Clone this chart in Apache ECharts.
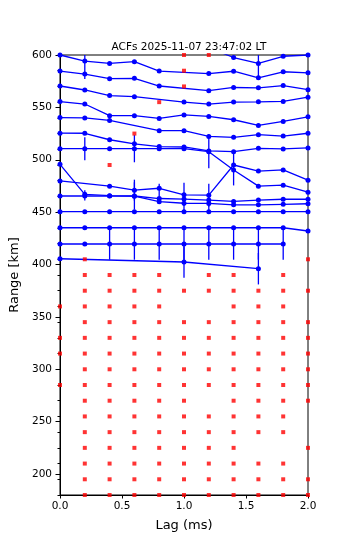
<!DOCTYPE html>
<html><head><meta charset="utf-8">
<script src="https://cdn.jsdelivr.net/npm/echarts@6/dist/echarts.min.js"></script>
<style>html,body{margin:0;padding:0;background:#fff}#c{width:350px;height:550px}</style>
</head><body><div id="c"></div>
<script>
// ---- data ----
const titleText = 'ACFs 2025-11-07 23:47:02 LT';
const lags = [0, 0.2, 0.4, 0.6, 0.8, 1.0, 1.2, 1.4, 1.6, 1.8, 2.0];
// ACF curves drawn as range offsets (km); null = no point
const acf615 = [null, null, null, null, null, null, 607, 597.6, 592, 598.8, 600];
const acf600 = [600, 594.2, 592, 593.6, 584.7, null, 582.3, 584.5, 578.2, 584, 583];
const acf585 = [584.7, 581.8, 577.4, 577.7, 570.4, null, 565.9, 569, 568.7, 570.8, 566.9];
const acf570 = [570.4, 566.6, 561.3, 560.2, null, 555.1, 553.2, 555.1, 555.3, 555.7, 559.7];
const acf555 = [555.5, 553.2, 542.1, 542.1, 539.5, 542.8, 541.4, 538.2, 532.8, 536.6, 541];
const acf540 = [540.3, 539.9, 537.5, null, 527.8, 527.8, 522.3, 521.4, 523.9, 522.6, 525.3];
const acf525 = [525.4, 525.3, 519.1, 515.2, 512.6, 512.2, 508.4, 507.7, 510.9, 510.3, 511.3];
const acf510 = [510.6, 510.6, 510.6, 510.6, 510.6, 510.6, 507.7, 490.2, 474.8, 475.7, 469];
const acf495 = [495.6, 467, 465.7, 465.4, 463, 462.5, 461.5, 460.2, 461.5, 462.3, 462.3];
const acf480 = [479.8, null, 474.8, 471, 472.8, 466.5, 466.2, 495, 489.2, 490.3, 480.5];
const acf465 = [465.4, 465.4, 465.3, 465.2, 460, 458.5, 458.3, 457, 457, 457.5, 458];
const acf450 = [450.4, 450.4, 450.4, 450.4, 450.4, 450.4, 450.4, 450.4, 450.4, 450.4, 450.4];
const acf435 = [435.1, 435.1, 435.1, 435.1, 435.1, 435.1, 435.1, 435.1, 435.1, 435.1, 432];
const acf420 = [419.6, 419.6, 419.6, 419.6, 419.6, 419.6, 419.6, 419.6, 419.6, 419.6, null];
const acf405 = [405.5, null, null, null, null, 402.4, null, null, 396, null, null];
const acfCurves = [acf615, acf600, acf585, acf570, acf555, acf540, acf525, acf510,
                   acf495, acf480, acf465, acf450, acf435, acf420, acf405];
// error bars: [lag, centre km, half-width km]
const errorBars = [
  [0.2, 594.2, 17], [1.6, 592, 14],
  [0.2, 510.6, 11], [0.6, 510.6, 13], [1.2, 508, 16], [1.4, 491.5, 16],
  [0.6, 471, 10], [0.8, 471, 6], [1.0, 467, 11], [1.2, 466.2, 11],
  [0.2, 466, 5], [0.6, 465.5, 13], [1.0, 458.5, 8], [1.2, 458.3, 8],
  [0.4, 419.6, 15], [0.6, 419.6, 15], [0.8, 419.6, 15], [1.0, 419.6, 15],
  [1.2, 419.6, 15], [1.4, 419.6, 15], [1.6, 419.6, 15], [1.8, 419.6, 15],
  [1.0, 402.4, 15], [1.6, 396, 15]
];
// red points: range gate and the lags flagged there
const redRanges = [600, 585, 570, 555, 525, 495, 405, 390, 375, 360, 345, 330, 315, 300,
                   285, 270, 255, 240, 225, 210, 195, 180];
const redLags = [
  [1.0, 1.2], [1.0], [1.0], [0.8], [0.6], [0.4], [0.2, 2.0],
  [0.2, 0.4, 0.6, 0.8, 1.2, 1.4, 1.8],
  [0.2, 0.4, 0.6, 0.8, 1.0, 1.2, 1.4, 1.6, 1.8, 2.0],
  [0, 0.2, 0.4, 0.6, 0.8, 1.4, 1.6, 1.8],
  [0.2, 0.4, 0.6, 0.8, 1.0, 1.2, 1.4, 1.6, 1.8, 2.0],
  [0, 0.2, 0.4, 0.6, 0.8, 1.0, 1.2, 1.4, 1.6, 1.8, 2.0],
  [0, 0.2, 0.4, 0.6, 0.8, 1.0, 1.2, 1.4, 1.6, 1.8, 2.0],
  [0.2, 0.4, 0.6, 0.8, 1.0, 1.2, 1.4, 1.6, 1.8, 2.0],
  [0, 0.2, 0.4, 0.6, 0.8, 1.0, 1.2, 1.4, 1.6, 1.8, 2.0],
  [0.2, 0.4, 0.6, 0.8, 1.0, 1.4, 1.6, 1.8, 2.0],
  [0.2, 0.4, 0.6, 0.8, 1.0, 1.2, 1.4, 1.6, 1.8],
  [0.2, 0.4, 0.6, 0.8, 1.0, 1.2, 1.4, 1.6, 1.8],
  [0.2, 0.4, 0.6, 0.8, 1.0, 1.2, 1.4, 2.0],
  [0.2, 0.4, 0.6, 0.8, 1.0, 1.2, 1.4, 1.6, 1.8],
  [0.2, 0.4, 0.6, 0.8, 1.0, 1.2, 1.4, 1.6, 1.8, 2.0],
  [0.2, 0.4, 0.6, 0.8, 1.0, 1.2, 1.4, 1.6, 1.8, 2.0]
];
const yMajorTicks = [200, 250, 300, 350, 400, 450, 500, 550, 600];
const gateTicks = [180, 195, 210, 225, 240, 255, 270, 285, 300, 315, 330, 345, 360, 375, 390,
                   405, 420, 435, 450, 465, 480, 495, 510, 525, 540, 555, 570, 585, 600];
const xLabel = 'Lag (ms)';
const yLabel = 'Range [km]';

// ---- chart ----
const FONT = 'DejaVu Sans';
const BLUE = '#0000ff';
const lineSeries = acfCurves.map(vals => ({
  type: 'line',
  data: lags.map((l, i) => [l, vals[i]]).filter(p => p[1] !== null),
  color: BLUE,
  lineStyle: { color: BLUE, width: 1.3 },
  itemStyle: { color: BLUE },
  symbol: 'circle', symbolSize: 5, showSymbol: true, showAllSymbol: true,
  clip: true, animation: false, z: 3, silent: true
}));
const redData = [];
redRanges.forEach((r, i) => redLags[i].forEach(l => redData.push([l, r])));

const chart = echarts.init(document.getElementById('c'), null, { renderer: 'canvas' });
chart.setOption({
  animation: false,
  backgroundColor: '#fff',
  textStyle: { fontFamily: FONT },
  title: {
    text: titleText, left: 184, top: 37, textAlign: 'center',
    textStyle: { fontFamily: FONT, fontSize: 10.5, fontWeight: 'normal', color: '#000' }
  },
  grid: { left: 60, right: 42, top: 55, bottom: 55, show: true, borderColor: '#000', borderWidth: 1, backgroundColor: 'transparent' },
  xAxis: {
    type: 'value', min: 0, max: 2, interval: 0.5,
    name: xLabel, nameLocation: 'middle', nameGap: 24,
    nameTextStyle: { fontFamily: FONT, fontSize: 13, color: '#000' },
    axisLine: { show: true, lineStyle: { color: '#000', width: 1 } },
    axisTick: { show: true, length: 3.5, lineStyle: { color: '#000' } },
    axisLabel: { fontFamily: FONT, fontSize: 10.5, color: '#000', margin: 6, formatter: v => v.toFixed(1) },
    splitLine: { show: false }
  },
  yAxis: [{
    type: 'value', min: 180, max: 600,
    name: yLabel, nameLocation: 'middle', nameGap: 38, nameRotate: 90,
    nameTextStyle: { fontFamily: FONT, fontSize: 13, color: '#000' },
    axisLine: { show: true, lineStyle: { color: '#000', width: 1 } },
    axisTick: { show: true, length: 4.5, customValues: yMajorTicks, lineStyle: { color: '#000' } },
    axisLabel: { fontFamily: FONT, fontSize: 10.5, color: '#000', margin: 8, customValues: yMajorTicks },
    splitLine: { show: false }
  }, {
    type: 'value', min: 180, max: 600, position: 'left',
    axisLine: { show: false },
    axisTick: { show: true, length: 2.5, customValues: gateTicks, lineStyle: { color: '#000' } },
    axisLabel: { show: false },
    splitLine: { show: false }
  }],
  series: [
    ...lineSeries,
    {
      type: 'custom',
      data: errorBars,
      encode: { x: 0, y: 1 },
      clip: true, z: 3, silent: true,
      renderItem: (params, api) => {
        const x = api.value(0), c = api.value(1), h = api.value(2);
        const lo = Math.max(c - h, 180), hi = Math.min(c + h, 600);
        const p1 = api.coord([x, lo]), p2 = api.coord([x, hi]);
        return { type: 'line', shape: { x1: p1[0], y1: p1[1], x2: p2[0], y2: p2[1] },
                 style: { stroke: BLUE, lineWidth: 1.3 } };
      }
    },
    {
      type: 'scatter', data: redData, symbol: 'rect', symbolSize: 4,
      itemStyle: { color: '#ff0000' }, z: 5, silent: true, clip: true
    }
  ]
});
</script></body></html>
